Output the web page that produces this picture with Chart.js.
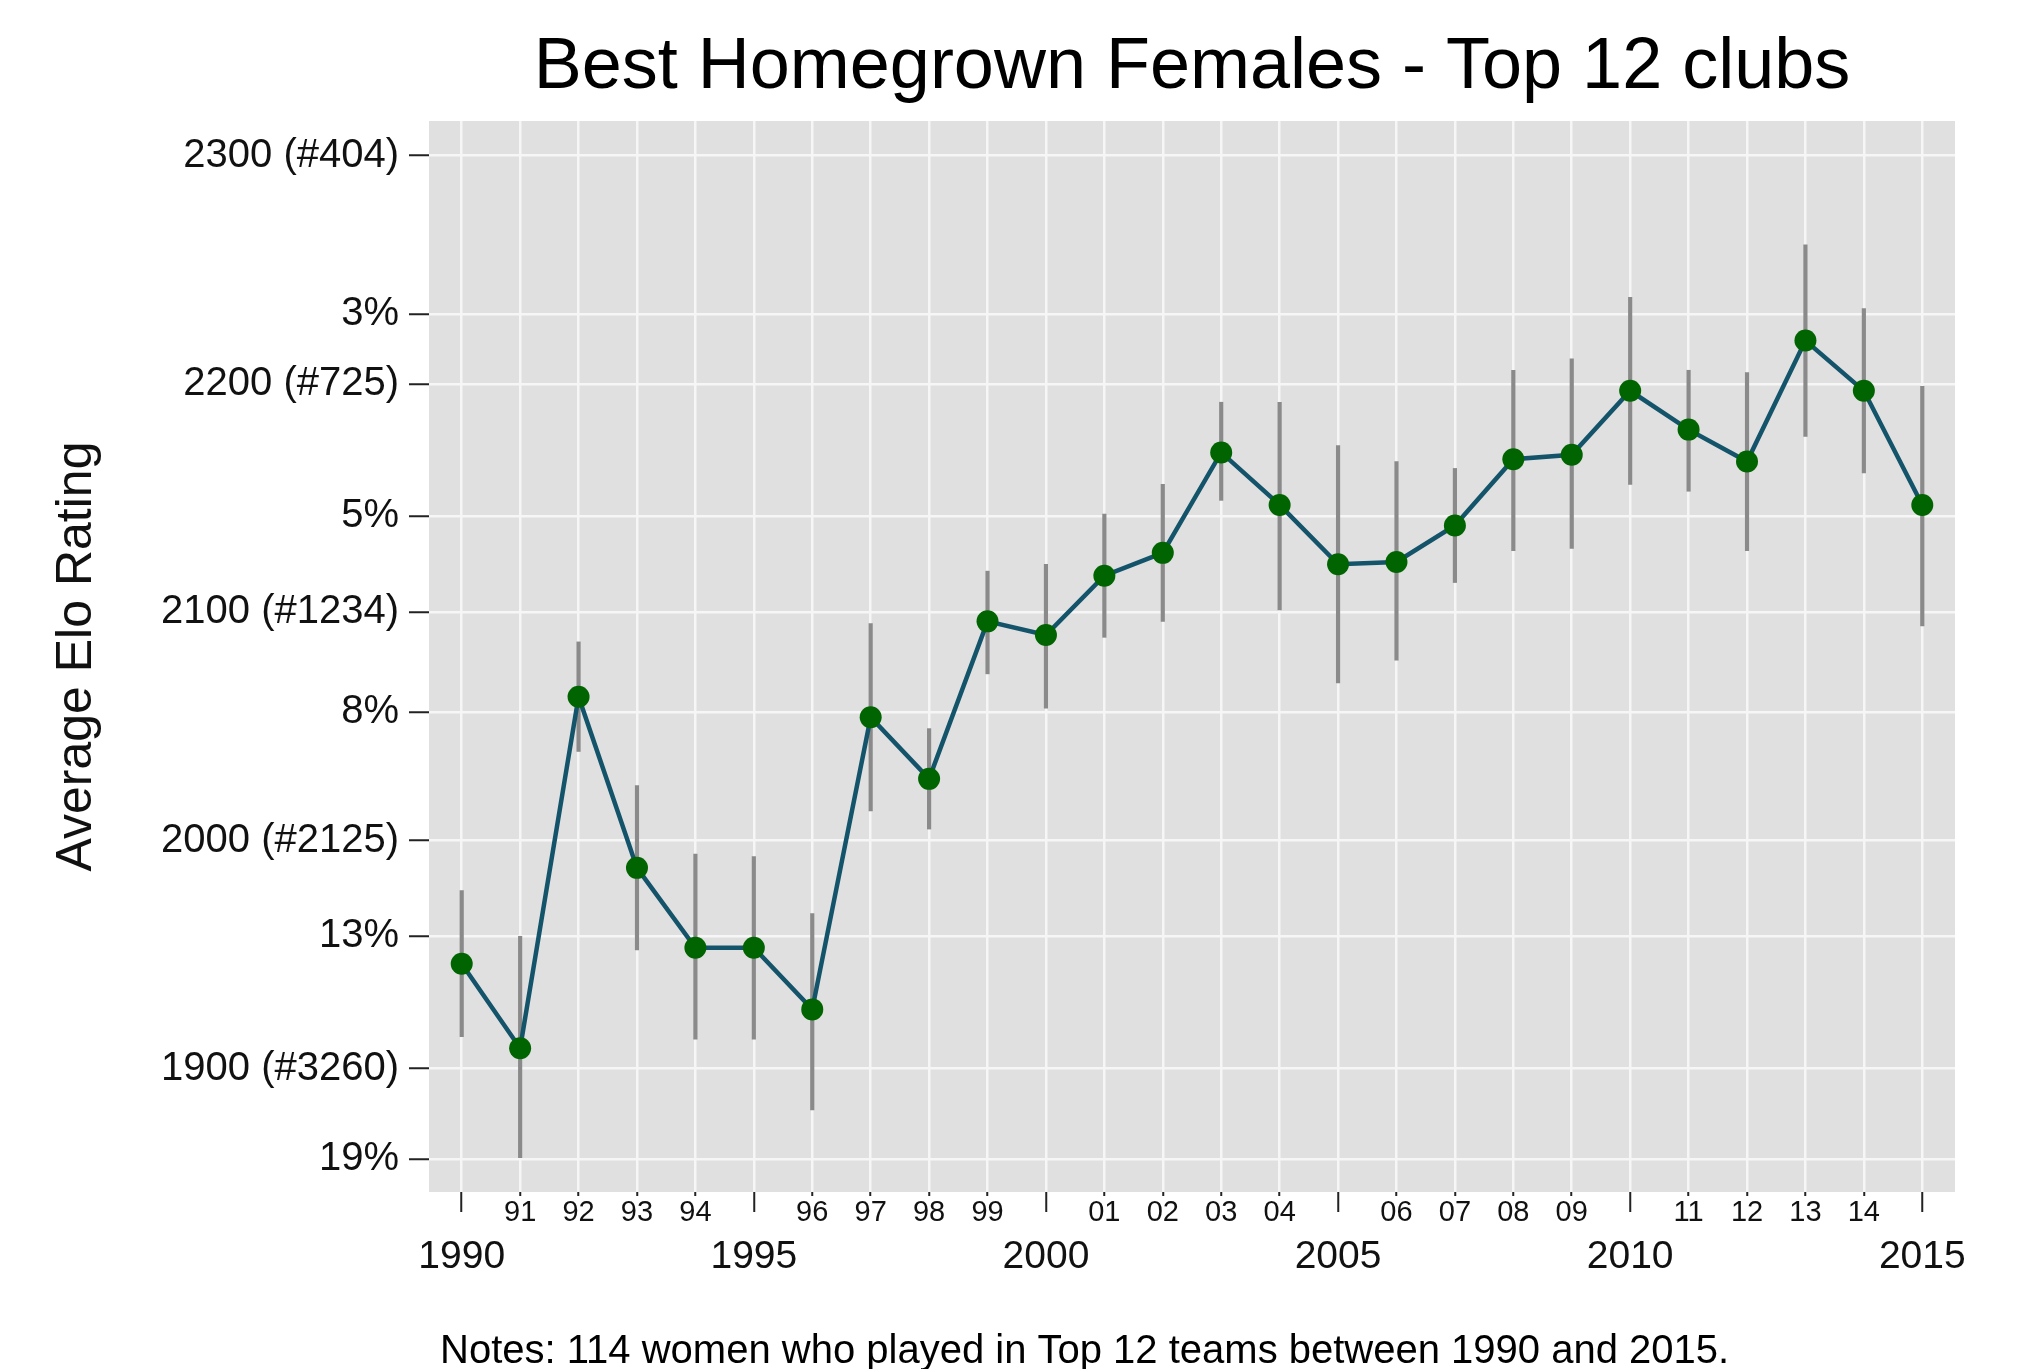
<!DOCTYPE html>
<html>
<head>
    <script src="https://cdn.jsdelivr.net/npm/chart.js"></script>
    <style>
        body {
            margin: 0;
            background: #ffffff;
            overflow: hidden;
        }
        .wrap {
            width: 2019px;
            height: 1385px;
        }
    </style>
</head>
<body>
    <div class="wrap">
        <canvas id="eloChart" width="2019" height="1385"></canvas>
    </div>

    <script>
        // data
        let years = [1990, 1991, 1992, 1993, 1994, 1995, 1996, 1997, 1998, 1999, 2000, 2001, 2002,
                     2003, 2004, 2005, 2006, 2007, 2008, 2009, 2010, 2011, 2012, 2013, 2014, 2015];
        let avgElo = [1946, 1909, 2063, 1988, 1953, 1953, 1926, 2054, 2027, 2096, 2090, 2116, 2126,
                      2170, 2147, 2121, 2122, 2138, 2167, 2169, 2197, 2180, 2166, 2219, 2197, 2147];
        let eloHigh = [1978, 1958, 2087, 2024, 1994, 1993, 1968, 2095, 2049, 2118, 2121, 2143, 2156,
                       2192, 2192, 2173, 2166, 2163, 2206, 2211, 2238, 2206, 2205, 2261, 2233, 2199];
        let eloLow = [1914, 1861, 2039, 1952, 1913, 1913, 1882, 2013, 2005, 2073, 2058, 2089, 2096,
                      2149, 2101, 2069, 2079, 2113, 2127, 2128, 2156, 2153, 2127, 2177, 2161, 2094];

        let yTickValues = [2300, 2230.6, 2200, 2142, 2100, 2056.3, 2000, 1958.1, 1900, 1860.5];
        let yTickLabels = ['2300 (#404)', '3%', '2200 (#725)', '5%', '2100 (#1234)', '8%',
                           '2000 (#2125)', '13%', '1900 (#3260)', '19%'];
        let xMinorLabels = ['', '91', '92', '93', '94', '', '96', '97', '98', '99', '', '01', '02',
                            '03', '04', '', '06', '07', '08', '09', '', '11', '12', '13', '14', ''];
        let majorYears = [1990, 1995, 2000, 2005, 2010, 2015];
        let xMajorLabels = ['1990', '1995', '2000', '2005', '2010', '2015'];

        Chart.defaults.font.family = "'Liberation Sans', Arial, sans-serif";
        Chart.defaults.color = '#111';

        let plotBg = {
            id: 'plotBg',
            beforeDraw(chart) {
                let a = chart.chartArea;
                let ctx = chart.ctx;
                ctx.save();
                ctx.fillStyle = '#e0e0e0';
                ctx.fillRect(a.left, a.top, a.right - a.left, a.bottom - a.top);
                ctx.restore();
            }
        };

        let isMajor = (v) => majorYears.indexOf(v) !== -1;

        let ctx = document.getElementById('eloChart').getContext('2d');
        let chart = new Chart(ctx, {
            type: 'line',
            data: {
                datasets: [
                    {
                        label: 'Average Elo',
                        data: years.map((y, i) => ({ x: y, y: avgElo[i] })),
                        borderColor: '#14546b',
                        borderWidth: 4.5,
                        pointRadius: 11,
                        pointBackgroundColor: '#006400',
                        pointBorderColor: '#006400',
                        pointBorderWidth: 0,
                        tension: 0,
                        order: 0
                    },
                    {
                        type: 'bar',
                        label: 'Range',
                        data: years.map((y, i) => ({ x: y, y: [eloLow[i], eloHigh[i]] })),
                        backgroundColor: '#8a8a8a',
                        barThickness: 3.5,
                        borderWidth: 0,
                        order: 1
                    }
                ]
            },
            options: {
                responsive: false,
                animation: false,
                layout: { padding: { left: 0, right: 64, top: 0, bottom: 0 } },
                plugins: {
                    legend: { display: false },
                    tooltip: { enabled: false },
                    title: {
                        display: true,
                        text: 'Best Homegrown Females - Top 12 clubs',
                        fullSize: false,
                        color: '#000',
                        font: { size: 72, weight: 'normal' },
                        padding: { top: 25, bottom: 9.6 }
                    },
                    subtitle: {
                        display: true,
                        position: 'bottom',
                        align: 'start',
                        fullSize: false,
                        text: ' Notes: 114 women who played in Top 12 teams between 1990 and 2015.',
                        color: '#000',
                        font: { size: 40, weight: 'normal' },
                        padding: { top: 40, bottom: 9 }
                    }
                },
                scales: {
                    x: {
                        type: 'linear',
                        position: 'bottom',
                        min: 1989.44,
                        max: 2015.56,
                        offset: false,
                        border: { display: false },
                        afterBuildTicks: (s) => { s.ticks = years.map(v => ({ value: v })); },
                        afterFit: (s) => { s.height = 36; },
                        grid: {
                            offset: false,
                            color: '#f6f6f6',
                            lineWidth: 2.5,
                            tickLength: 20,
                            tickColor: '#222',
                            tickWidth: 2,
                            tickBorderDash: (c) => (c.tick && isMajor(c.tick.value)) ? [] : [4, 60]
                        },
                        ticks: {
                            padding: -16,
                            maxRotation: 0,
                            autoSkip: false,
                            font: { size: 29 },
                            color: '#111',
                            callback: (v) => xMinorLabels[years.indexOf(v)]
                        }
                    },
                    x2: {
                        type: 'linear',
                        position: 'bottom',
                        min: 1989.44,
                        max: 2015.56,
                        offset: false,
                        border: { display: false },
                        afterBuildTicks: (s) => { s.ticks = majorYears.map(v => ({ value: v })); },
                        afterFit: (s) => { s.height = 60; },
                        grid: { display: false, drawTicks: false, offset: false },
                        ticks: {
                            padding: 6,
                            maxRotation: 0,
                            autoSkip: false,
                            font: { size: 39 },
                            color: '#111',
                            callback: (v) => xMajorLabels[majorYears.indexOf(v)]
                        }
                    },
                    y: {
                        min: 1846,
                        max: 2315.2,
                        border: { display: false },
                        afterBuildTicks: (s) => { s.ticks = yTickValues.map(v => ({ value: v })); },
                        afterFit: (s) => { s.width = 429; },
                        grid: {
                            color: '#f6f6f6',
                            lineWidth: 2.5,
                            tickLength: 20,
                            tickColor: '#222',
                            tickWidth: 2
                        },
                        ticks: {
                            padding: 10,
                            autoSkip: false,
                            font: { size: 40 },
                            color: '#111',
                            callback: (v) => yTickLabels[yTickValues.indexOf(v)]
                        },
                        title: {
                            display: true,
                            text: 'Average Elo Rating',
                            color: '#111',
                            font: { size: 50 },
                            padding: { top: 47, bottom: 0 }
                        }
                    }
                }
            },
            plugins: [plotBg]
        });
    </script>
</body>
</html>
